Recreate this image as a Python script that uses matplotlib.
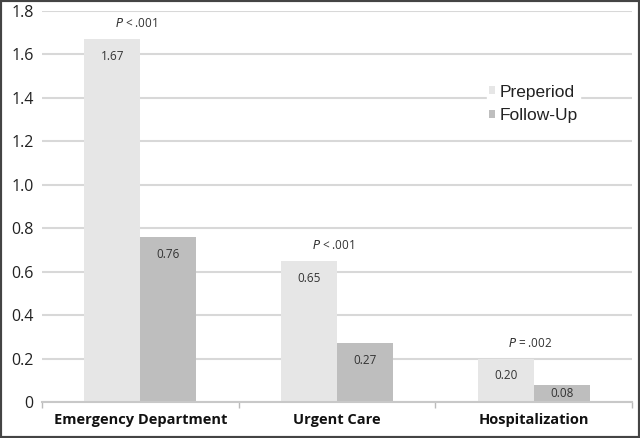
import numpy as np
import matplotlib
matplotlib.use("Agg")
import matplotlib.pyplot as plt
from matplotlib.patches import Rectangle

categories = ["Emergency Department", "Urgent Care", "Hospitalization"]
preperiod = [1.67, 0.65, 0.20]
follow_up = [0.76, 0.27, 0.08]
p_labels = [r"$\it{P}$ < .001", r"$\it{P}$ < .001", r"$\it{P}$ = .002"]
yticks = [0, 0.2, 0.4, 0.6, 0.8, 1.0, 1.2, 1.4, 1.6, 1.8]
ytick_labels = ["0", "0.2", "0.4", "0.6", "0.8", "1.0", "1.2", "1.4", "1.6", "1.8"]

c_pre = "#e6e6e6"
c_fol = "#bebebe"

fig = plt.figure(figsize=(6.4, 4.38), dpi=100)
ax = fig.add_axes([0.0656, 0.0822, 0.922, 0.893])

x = np.arange(len(categories))
w = 0.285
b1 = ax.bar(x - w / 2, preperiod, w, color=c_pre, label="Preperiod", zorder=2)
b2 = ax.bar(x + w / 2, follow_up, w, color=c_fol, label="Follow-Up", zorder=2)

ax.set_xlim(-0.5, 2.5)
ax.set_ylim(0, 1.8)
ax.set_yticks(yticks)
ax.set_yticklabels(ytick_labels, fontsize=11.5, family="Open Sans", color="#222222")
ax.tick_params(axis="y", length=0, pad=6)
ax.grid(axis="y", color="#d8d8d8", linewidth=1.5, zorder=0)
ax.set_axisbelow(True)

ax.set_xticks(x)
ax.set_xticklabels(categories, fontsize=10.5, family="Open Sans", fontweight="bold", color="#111111")
ax.tick_params(axis="x", which="major", length=0, pad=8)
ax.set_xticks([-0.5, 0.5, 1.5, 2.5], minor=True)
ax.tick_params(axis="x", which="minor", length=4, color="#bbbbbb", width=1)

for s in ["left", "right", "top"]:
    ax.spines[s].set_visible(False)
ax.spines["bottom"].set_color("#c8c8c8")
ax.spines["bottom"].set_linewidth(1.5)

# value labels inside bars
px_per_unit = ax.get_position().height * fig.get_figheight() * 72 / 1.8
for bars in (b1, b2):
    for r in bars:
        h = r.get_height()
        off = min(12.5, h * px_per_unit / 2)
        ax.annotate(f"{h:.2f}", (r.get_x() + r.get_width() / 2, h),
                    xytext=(0, -off), textcoords="offset points",
                    ha="center", va="center", fontsize=8.5, family="Open Sans", color="#333333")

# p-value labels
for i, lab in enumerate(p_labels):
    ax.annotate(lab, (x[i] - 0.02, preperiod[i]), xytext=(0, 11), textcoords="offset points",
                ha="center", va="center", fontsize=8.5, family="Open Sans", color="#333333")

leg = ax.legend(loc="center left", bbox_to_anchor=(0.755, 0.762), frameon=True, framealpha=1,
                edgecolor="white", fontsize=12.5, handlelength=0.35, handleheight=0.35,
                handletextpad=0.25, labelspacing=0.5, borderpad=0.1, borderaxespad=0)
for t in leg.get_texts():
    t.set_family("Liberation Sans")
    t.set_color("#222222")

fig.add_artist(Rectangle((0, 0), 1, 1, transform=fig.transFigure, fill=False,
                         edgecolor="#444444", linewidth=3))

fig.savefig("out.png", dpi=100)
